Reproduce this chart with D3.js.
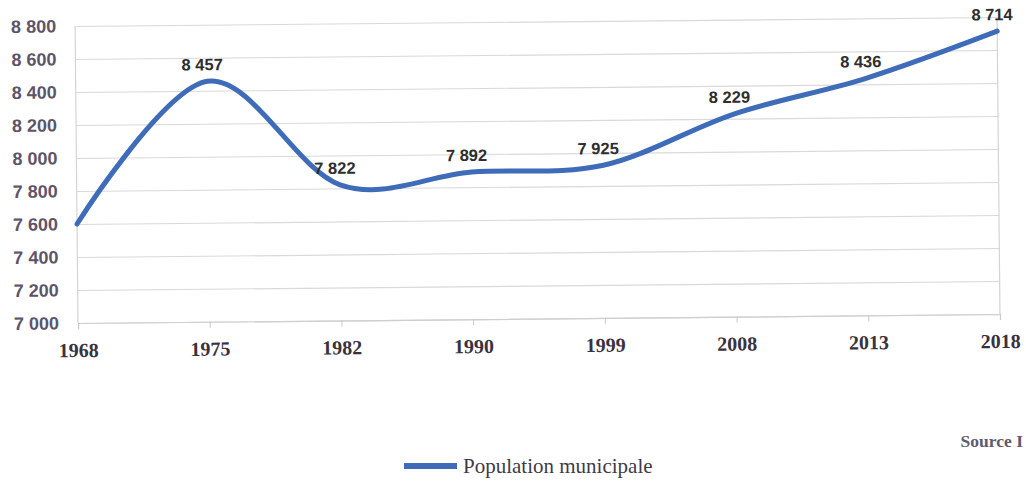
<!DOCTYPE html>
<html lang="fr">
<head>
<meta charset="utf-8">
<script src="https://cdn.jsdelivr.net/npm/d3@7"></script>
<style>
  html, body { margin: 0; padding: 0; background: #ffffff; }
  svg { display: block; }
</style>
</head>
<body>
<svg id="chart" width="1026" height="483"></svg>
<script>
// Population municipale par recensement
const years = ["1968", "1975", "1982", "1990", "1999", "2008", "2013", "2018"];
const population = [7600, 8457, 7822, 7892, 7925, 8229, 8436, 8714];
// the first census point carries no data label
const labelled = [false, true, true, true, true, true, true, true];
const yTicks = [7000, 7200, 7400, 7600, 7800, 8000, 8200, 8400, 8600, 8800];
const seriesName = "Population municipale";
const sourceText = "Source I";

const svg = d3.select("#chart");
const plotLeft = 78, plotRight = 1000, plotTop = 26, plotBottom = 323;

const fr = d3.formatLocale({ decimal: ",", thousands: " ", grouping: [3], currency: ["", " €"] });
const fmt = fr.format(",d");

const x = d3.scalePoint().domain(years).range([plotLeft, plotRight]);
const y = d3.scaleLinear().domain([7000, 8800]).range([plotBottom, plotTop]);

const blue = "#3e6cb8";

// plot area, slightly tilted like the printed page
const g = svg.append("g").attr("transform", `rotate(-0.56, ${plotLeft}, ${plotBottom})`);

// horizontal gridlines
const grid = g.append("g")
  .attr("transform", `translate(${plotLeft},0)`)
  .call(d3.axisLeft(y).tickValues(yTicks).tickSize(-(plotRight - plotLeft)).tickFormat(""));
grid.select(".domain").remove();
grid.selectAll("line").attr("stroke", "#d9d9d9").attr("stroke-width", 1.2);

// frame sides
g.append("line").attr("x1", plotLeft).attr("x2", plotLeft).attr("y1", plotTop).attr("y2", plotBottom)
  .attr("stroke", "#d4d4d4").attr("stroke-width", 1.2);
g.append("line").attr("x1", plotRight).attr("x2", plotRight).attr("y1", plotTop).attr("y2", plotBottom)
  .attr("stroke", "#d4d4d4").attr("stroke-width", 1.2);

// y tick labels
const yAxis = g.append("g")
  .attr("transform", `translate(${plotLeft},0)`)
  .call(d3.axisLeft(y).tickValues(yTicks).tickSize(0).tickPadding(19).tickFormat(fmt));
yAxis.select(".domain").remove();
yAxis.selectAll("text")
  .attr("fill", "#5e5468")
  .style("font-family", "'Liberation Sans', Arial, sans-serif")
  .style("font-weight", "bold")
  .style("font-size", "18px");

// x axis
const xAxis = g.append("g")
  .attr("transform", `translate(0,${plotBottom})`)
  .call(d3.axisBottom(x).tickSize(6));
xAxis.select(".domain").attr("stroke", "#cfcfcf").attr("stroke-width", 1.2);
xAxis.selectAll("line").attr("stroke", "#c8c8c8");
xAxis.selectAll("text")
  .attr("y", 34).attr("dy", 0)
  .attr("fill", "#38323e")
  .style("font-family", "'Liberation Serif', 'Times New Roman', serif")
  .style("font-weight", "bold")
  .style("font-size", "20px");

// smoothed population line
const line = d3.line()
  .x((d, i) => x(years[i]))
  .y(d => y(d))
  .curve(d3.curveCardinal.tension(0));

g.append("path")
  .datum(population)
  .attr("fill", "none")
  .attr("stroke", blue)
  .attr("stroke-width", 5)
  .attr("stroke-linecap", "round")
  .attr("stroke-linejoin", "round")
  .attr("d", line);

// data labels
g.append("g").selectAll("text")
  .data(population.map((v, i) => ({ v, i })).filter(d => labelled[d.i]))
  .join("text")
  .attr("x", d => x(years[d.i]) - 5)
  .attr("y", d => y(d.v) - 11)
  .attr("text-anchor", "middle")
  .attr("fill", "#2e2e2e")
  .style("font-family", "'Liberation Sans', Arial, sans-serif")
  .style("font-weight", "bold")
  .style("font-size", "16.5px")
  .text(d => fmt(d.v));

// source note
svg.append("text")
  .attr("x", 1023).attr("y", 447)
  .attr("text-anchor", "end")
  .attr("fill", "#62596b")
  .style("font-family", "'Liberation Serif', 'Times New Roman', serif")
  .style("font-weight", "bold")
  .style("font-size", "17.5px")
  .text(sourceText);

// legend
svg.append("line")
  .attr("x1", 404).attr("x2", 457).attr("y1", 466).attr("y2", 466)
  .attr("stroke", blue).attr("stroke-width", 6);
svg.append("text")
  .attr("x", 463).attr("y", 473)
  .attr("fill", "#3f3a45")
  .style("font-family", "'Liberation Serif', 'Times New Roman', serif")
  .style("font-size", "21px")
  .text(seriesName);
</script>
</body>
</html>
